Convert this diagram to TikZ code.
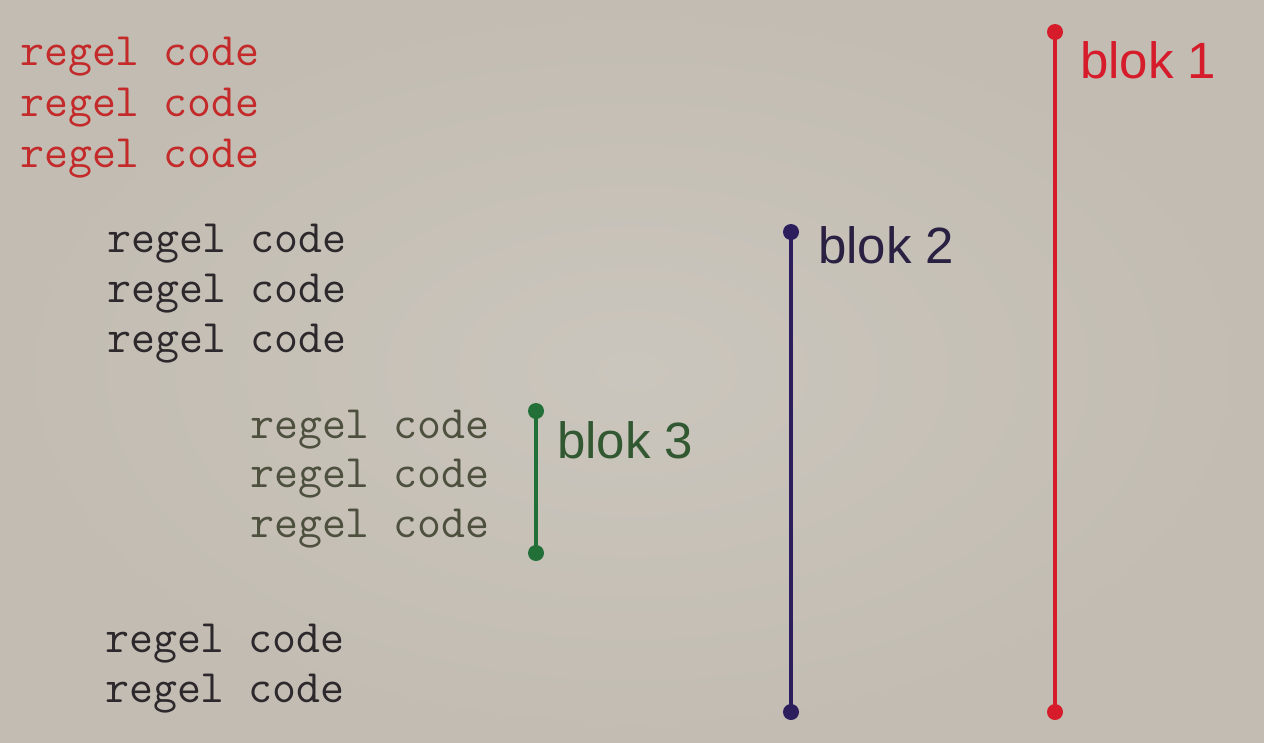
\documentclass[tikz,border=0pt]{standalone}
\usepackage{fontspec}
\newfontfamily\labelfont{Liberation Sans}
\definecolor{paper}{RGB}{194,188,178}
\definecolor{paperlight}{RGB}{203,198,189}
\definecolor{blokred}{RGB}{214,28,42}
\definecolor{codered}{RGB}{196,42,42}
\definecolor{blokpurple}{RGB}{44,30,92}
\definecolor{labelpurple}{RGB}{42,32,66}
\definecolor{blokgreen}{RGB}{34,112,56}
\definecolor{labelgreen}{RGB}{50,88,50}
\definecolor{codegreen}{RGB}{78,80,62}
\definecolor{codeblack}{RGB}{44,40,44}
\tikzset{
  codeline/.style={anchor=base west, inner sep=0pt, font=\fontsize{46.5}{50}\selectfont\ttfamily},
  bloklabel/.style={anchor=base west, inner sep=0pt, font=\fontsize{51}{56}\selectfont\labelfont},
  blokdot/.style={circle, inner sep=0pt, minimum size=16pt},
  blokbar/.style={line width=3.4pt},
}
\begin{document}
\begin{tikzpicture}[x=1pt,y=-1pt]
  % page background
  \useasboundingbox (0,0) rectangle (1264,742);
  \shade[inner color=paperlight, outer color=paper] (0,0) rectangle (1264,742);

  % outer block
  \node[codeline, text=codered] (r1) at (20,65) {regel code};
  \node[codeline, text=codered] (r2) at (20,116) {regel code};
  \node[codeline, text=codered] (r3) at (20,167) {regel code};

  % second level
  \node[codeline, text=codeblack] (k1) at (107,252) {regel code};
  \node[codeline, text=codeblack] (k2) at (107,302) {regel code};
  \node[codeline, text=codeblack] (k3) at (107,352) {regel code};

  % innermost block
  \node[codeline, text=codegreen] (g1) at (250,438) {regel code};
  \node[codeline, text=codegreen] (g2) at (250,487) {regel code};
  \node[codeline, text=codegreen] (g3) at (250,537) {regel code};

  % back on the second level
  \node[codeline, text=codeblack] (k4) at (105,652) {regel code};
  \node[codeline, text=codeblack] (k5) at (105,702) {regel code};

  % block bars with their end points
  \node[blokdot, fill=blokred] (top1) at (1055,32) {};
  \node[blokdot, fill=blokred] (bot1) at (1055,712) {};
  \draw[blokbar, blokred] (top1.center) -- (bot1.center);

  \node[blokdot, fill=blokpurple] (top2) at (791,232) {};
  \node[blokdot, fill=blokpurple] (bot2) at (791,712) {};
  \draw[blokbar, blokpurple] (top2.center) -- (bot2.center);

  \node[blokdot, fill=blokgreen] (top3) at (536,411) {};
  \node[blokdot, fill=blokgreen] (bot3) at (536,553) {};
  \draw[blokbar, blokgreen] (top3.center) -- (bot3.center);

  % block labels
  \node[bloklabel, text=blokred] (l1) at (1080,78) {blok 1};
  \node[bloklabel, text=labelpurple] (l2) at (818,263) {blok 2};
  \node[bloklabel, text=labelgreen] (l3) at (557,458) {blok 3};
\end{tikzpicture}
\end{document}
